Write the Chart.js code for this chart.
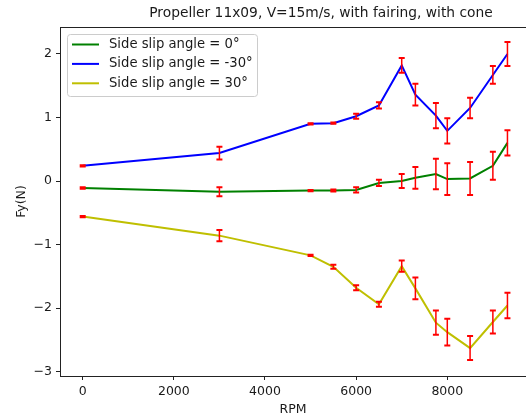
<!DOCTYPE html>
<html>
<head>
<meta charset="utf-8">
<script src="https://cdn.jsdelivr.net/npm/chart.js@4"></script>
<style>
html, body { margin: 0; padding: 0; background: #fff; }
</style>
</head>
<body>
<canvas id="fyChart" width="526" height="419"></canvas>
<script>
// data
const rpm = [0, 3000, 5000, 5500, 6000, 6500, 7000, 7300, 7750, 8000, 8500, 9000, 9320];
const fySlip0 = [-0.11, -0.17, -0.15, -0.15, -0.14, -0.03, 0.00, 0.05, 0.11, 0.03, 0.04, 0.24, 0.60];
const errSlip0 = [0.01, 0.07, 0.01, 0.015, 0.04, 0.05, 0.11, 0.17, 0.24, 0.25, 0.26, 0.22, 0.20];
const fySlipNeg30 = [0.24, 0.44, 0.90, 0.91, 1.02, 1.19, 1.82, 1.36, 1.03, 0.79, 1.15, 1.67, 2.00];
const errSlipNeg30 = [0.01, 0.10, 0.01, 0.01, 0.04, 0.05, 0.115, 0.17, 0.20, 0.20, 0.16, 0.14, 0.19];
const fySlip30 = [-0.56, -0.86, -1.17, -1.35, -1.68, -1.94, -1.34, -1.69, -2.23, -2.38, -2.63, -2.22, -1.96];
const errSlip30 = [0.01, 0.09, 0.01, 0.03, 0.04, 0.04, 0.09, 0.17, 0.19, 0.21, 0.19, 0.18, 0.20];

const seriesLabels = ['Side slip angle = 0°', 'Side slip angle = -30°', 'Side slip angle = 30°'];
const xTicks = [0, 2000, 4000, 6000, 8000];
const yTicks = [-3, -2, -1, 0, 1, 2];
const chartTitle = 'Propeller 11x09, V=15m/s, with fairing, with cone';

const errors = [errSlip0, errSlipNeg30, errSlip30];
const colors = ['#008000', '#0000ff', '#bfbf00'];
const FONT = 'DejaVu Sans';
const TEXT = '#1a1a1a';

function toPoints(ys) {
    return rpm.map((r, i) => ({ x: r, y: ys[i] }));
}

// red error bars with caps, drawn right after each line
const errorBars = {
    id: 'errorBars',
    afterDatasetDraw(chart, args) {
        const err = errors[args.index];
        const { ctx, scales: { x, y } } = chart;
        ctx.save();
        ctx.strokeStyle = '#ff0000';
        chart.data.datasets[args.index].data.forEach((p, j) => {
            const px = x.getPixelForValue(p.x);
            const top = y.getPixelForValue(p.y + err[j]);
            const bot = y.getPixelForValue(p.y - err[j]);
            ctx.lineWidth = 1.5;
            ctx.beginPath();
            ctx.moveTo(px, top);
            ctx.lineTo(px, bot);
            ctx.stroke();
            ctx.lineWidth = 2;
            ctx.beginPath();
            ctx.moveTo(px - 3, top); ctx.lineTo(px + 3, top);
            ctx.moveTo(px - 3, bot); ctx.lineTo(px + 3, bot);
            ctx.stroke();
        });
        ctx.restore();
    }
};

// top spine, title and the boxed legend (matplotlib style)
const frameAndLegend = {
    id: 'frameAndLegend',
    afterDraw(chart) {
        const { ctx, chartArea } = chart;
        ctx.save();
        ctx.strokeStyle = '#222';
        ctx.lineWidth = 1;
        ctx.beginPath();
        ctx.moveTo(chartArea.left, chartArea.top + 0.5);
        ctx.lineTo(chartArea.right, chartArea.top + 0.5);
        ctx.stroke();

        ctx.fillStyle = TEXT;
        ctx.font = '13.8px "' + FONT + '"';
        ctx.textAlign = 'center';
        ctx.textBaseline = 'alphabetic';
        ctx.fillText(chartTitle, 321, 17);

        // legend box
        const bx = 67.5, by = 34.5, bw = 190, bh = 62, r = 3;
        ctx.beginPath();
        ctx.roundRect(bx, by, bw, bh, r);
        ctx.fillStyle = 'rgba(255,255,255,0.8)';
        ctx.fill();
        ctx.strokeStyle = '#cccccc';
        ctx.stroke();

        ctx.font = '13.2px "' + FONT + '"';
        ctx.textAlign = 'left';
        ctx.textBaseline = 'middle';
        chart.data.datasets.forEach((ds, k) => {
            const ly = 44.5 + k * 19.4;
            ctx.strokeStyle = ds.borderColor;
            ctx.lineWidth = 2;
            ctx.beginPath();
            ctx.moveTo(72, ly);
            ctx.lineTo(99, ly);
            ctx.stroke();
            ctx.fillStyle = TEXT;
            ctx.fillText(ds.label, 109, ly);
        });
        ctx.restore();
    }
};

const ctx = document.getElementById('fyChart').getContext('2d');
const fyChart = new Chart(ctx, {
    type: 'line',
    data: {
        datasets: [fySlip0, fySlipNeg30, fySlip30].map((ys, i) => ({
            label: seriesLabels[i],
            data: toPoints(ys),
            borderColor: colors[i],
            backgroundColor: colors[i],
            borderWidth: 2,
            pointRadius: 0,
            tension: 0,
            fill: false
        }))
    },
    options: {
        responsive: false,
        animation: false,
        devicePixelRatio: 1,
        layout: { padding: { top: 27, right: 0, bottom: 0, left: 0 } },
        plugins: {
            legend: { display: false },
            title: { display: false },
            tooltip: { enabled: false }
        },
        scales: {
            x: {
                type: 'linear',
                min: -498,
                max: 9727,
                afterBuildTicks: s => { s.ticks = xTicks.map(v => ({ value: v })); },
                afterFit: s => { s.height = 43; },
                grid: { drawOnChartArea: false, tickLength: 4, tickColor: '#222', tickWidth: 1 },
                border: { color: '#222', width: 1 },
                ticks: {
                    font: { family: FONT, size: 12.5 },
                    color: TEXT,
                    padding: 4,
                    maxRotation: 0,
                    callback: v => String(v)
                },
                title: {
                    display: true,
                    text: 'RPM',
                    font: { family: FONT, size: 12.5 },
                    color: TEXT,
                    padding: { top: 0, bottom: 2 }
                }
            },
            y: {
                type: 'linear',
                min: -3.07,
                max: 2.425,
                afterBuildTicks: s => { s.ticks = yTicks.map(v => ({ value: v })); },
                afterFit: s => { s.width = 60; },
                grid: { drawOnChartArea: false, tickLength: 4, tickColor: '#222', tickWidth: 1 },
                border: { color: '#222', width: 1 },
                ticks: {
                    font: { family: FONT, size: 12.5 },
                    color: TEXT,
                    padding: 4,
                    callback: v => v < 0 ? '\u2212' + Math.abs(v) : String(v)
                },
                title: {
                    display: true,
                    text: 'Fy(N)',
                    font: { family: FONT, size: 12.5 },
                    color: TEXT,
                    padding: { top: 14, bottom: 0 }
                }
            }
        }
    },
    plugins: [errorBars, frameAndLegend]
});
</script>
</body>
</html>
